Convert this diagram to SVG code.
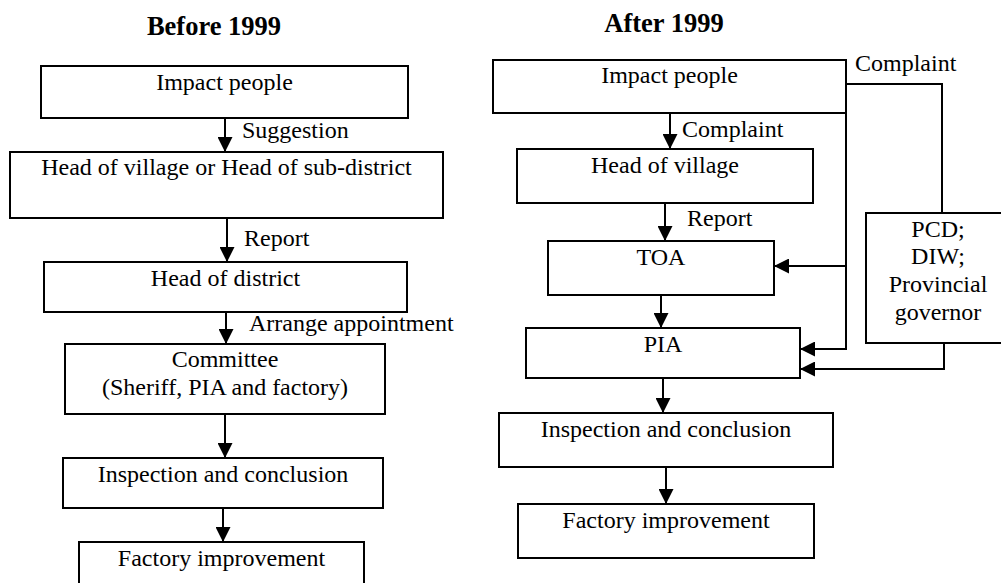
<svg xmlns="http://www.w3.org/2000/svg" width="1001" height="583" viewBox="0 0 1001 583">
  <style>
    .box { fill: #ffffff; stroke: #000000; stroke-width: 2; }
    .lbl { font-family: "Liberation Serif", "Times New Roman", serif; font-size: 24px; fill: #000000; }
    .mid { text-anchor: middle; }
    .title { font-family: "Liberation Serif", "Times New Roman", serif; font-size: 26.5px; font-weight: bold; text-anchor: middle; fill: #000000; }
    .conn { fill: none; stroke: #000000; stroke-width: 2; marker-end: url(#head); }
    .plain { fill: none; stroke: #000000; stroke-width: 2; }
  </style>
  <defs>
    <marker id="head" markerUnits="userSpaceOnUse" markerWidth="15" markerHeight="15" refX="15" refY="7.5" orient="auto">
      <path d="M0,0 L15,7.5 L0,15 z" fill="#000000"/>
    </marker>
  </defs>
  <rect width="1001" height="583" fill="#ffffff"/>

  <!-- Column titles -->
  <text class="title" x="214" y="35">Before 1999</text>
  <text class="title" x="664" y="32">After 1999</text>

  <!-- Before 1999 -->
  <g id="b-impact">
    <rect class="box" x="41" y="66" width="367" height="52"/>
    <text class="lbl mid" x="224.5" y="90">Impact people</text>
  </g>
  <g id="b-village">
    <rect class="box" x="10" y="152" width="433" height="66"/>
    <text class="lbl mid" x="226.5" y="175">Head of village or Head of sub-district</text>
  </g>
  <g id="b-district">
    <rect class="box" x="44" y="262" width="363" height="50"/>
    <text class="lbl mid" x="225.5" y="286">Head of district</text>
  </g>
  <g id="b-committee">
    <rect class="box" x="65" y="344" width="320" height="70"/>
    <text class="lbl mid" x="225" y="367">Committee</text>
    <text class="lbl mid" x="225" y="395">(Sheriff, PIA and factory)</text>
  </g>
  <g id="b-inspection">
    <rect class="box" x="63" y="458" width="320" height="50"/>
    <text class="lbl mid" x="223" y="482">Inspection and conclusion</text>
  </g>
  <g id="b-factory">
    <rect class="box" x="79" y="542" width="285" height="60"/>
    <text class="lbl mid" x="221.5" y="566">Factory improvement</text>
  </g>

  <!-- After 1999 -->
  <g id="a-impact">
    <rect class="box" x="493" y="60" width="353" height="53"/>
    <text class="lbl mid" x="669.5" y="83">Impact people</text>
  </g>
  <g id="a-village">
    <rect class="box" x="517" y="149" width="296" height="54"/>
    <text class="lbl mid" x="665" y="173">Head of village</text>
  </g>
  <g id="a-toa">
    <rect class="box" x="548" y="241" width="226" height="54"/>
    <text class="lbl mid" x="661" y="265">TOA</text>
  </g>
  <g id="a-pia">
    <rect class="box" x="526" y="328" width="274" height="50"/>
    <text class="lbl mid" x="663" y="352">PIA</text>
  </g>
  <g id="a-inspection">
    <rect class="box" x="499" y="413" width="334" height="54"/>
    <text class="lbl mid" x="666" y="437">Inspection and conclusion</text>
  </g>
  <g id="a-factory">
    <rect class="box" x="518" y="504" width="296" height="54"/>
    <text class="lbl mid" x="666" y="528">Factory improvement</text>
  </g>
  <g id="a-agencies">
    <rect class="box" x="866" y="213" width="150" height="130"/>
    <text class="lbl mid" x="938" y="237">PCD;</text>
    <text class="lbl mid" x="938" y="264">DIW;</text>
    <text class="lbl mid" x="938" y="292">Provincial</text>
    <text class="lbl mid" x="938" y="320">governor</text>
  </g>

  <!-- Connectors -->
  <g id="connectors">
    <!-- Before 1999 -->
    <line class="conn" x1="225" y1="118" x2="225" y2="152"/>
    <line class="conn" x1="227" y1="218" x2="227" y2="262"/>
    <line class="conn" x1="226" y1="312" x2="226" y2="344"/>
    <line class="conn" x1="225" y1="414" x2="225" y2="458"/>
    <line class="conn" x1="223" y1="508" x2="223" y2="542"/>

    <!-- After 1999 -->
    <line class="conn" x1="670" y1="113" x2="670" y2="149"/>
    <line class="conn" x1="665" y1="203" x2="665" y2="241"/>
    <line class="conn" x1="661" y1="295" x2="661" y2="328"/>
    <line class="conn" x1="663" y1="378" x2="663" y2="413"/>
    <line class="conn" x1="666" y1="467" x2="666" y2="504"/>

    <!-- Complaint to agencies -->
    <polyline class="plain" points="846,84 942,84 942,213"/>
    <!-- Direct route down the right side -->
    <polyline class="plain" points="846,112 846,349"/>
    <line class="conn" x1="846" y1="266" x2="774" y2="266"/>
    <line class="conn" x1="847" y1="349" x2="800" y2="349"/>
    <!-- Agencies to PIA -->
    <polyline class="conn" points="944,343 944,369 800,369"/>

    <!-- Connector labels -->
    <text class="lbl" x="242" y="138">Suggestion</text>
    <text class="lbl" x="244" y="246">Report</text>
    <text class="lbl" x="249" y="331">Arrange appointment</text>
    <text class="lbl" x="855" y="71">Complaint</text>
    <text class="lbl" x="682" y="137">Complaint</text>
    <text class="lbl" x="687" y="226">Report</text>
  </g>
</svg>
